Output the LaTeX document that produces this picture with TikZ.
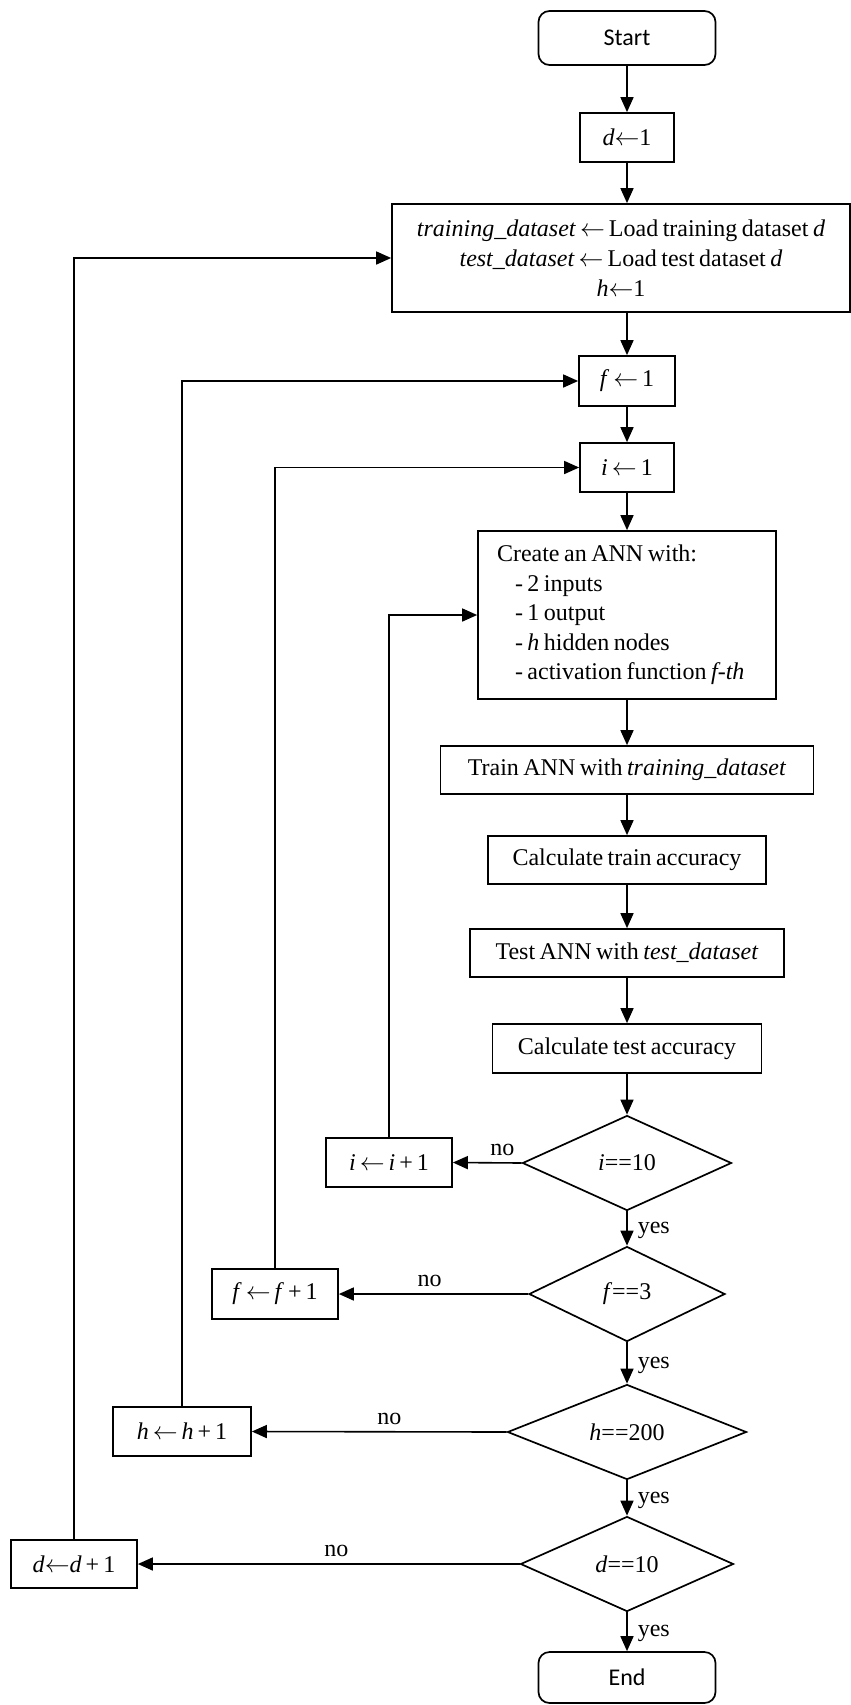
\documentclass[tikz,border=0pt]{standalone}
\usepackage{fontspec}
\setmainfont[WordSpace=0.75]{Liberation Serif}
\newfontfamily\calfont{Carlito}
\usetikzlibrary{shapes.geometric,arrows.meta}
\begin{document}
\begin{tikzpicture}[x=1pt,y=-1pt,
  every node/.style={font=\fontsize{24}{30}\selectfont},
  box/.style={draw, line width=1.7pt, inner sep=0pt, align=center},
  term/.style={draw, rounded corners=11pt, line width=1.7pt, inner sep=0pt,
    minimum width=177pt, minimum height=54pt, font=\calfont\fontsize{24}{29}\selectfont},
  dec/.style={draw, diamond, line width=1.7pt, inner sep=0pt, aspect=2.2},
  arr/.style={line width=1.6pt, -{Triangle[length=15pt,width=13pt]}},
  lbl/.style={inner sep=2pt, font=\fontsize{24}{28}\selectfont}
]
\fill[white] (0,0) rectangle (851,1705);
\useasboundingbox (0,0) rectangle (851,1705);

\node[term] (start) at (627,38) {Start};
\node[box, minimum width=94pt, minimum height=49pt] (d1) at (627,137.5) {\textit{d}$\leftarrow$1};
\node[box, minimum width=458pt, minimum height=108pt] (load) at (621,258)
  {\textit{training\_dataset}\,$\leftarrow$\,Load training dataset \textit{d}\\
   \textit{test\_dataset}\,$\leftarrow$\,Load test dataset \textit{d}\\
   \textit{h}$\leftarrow$1};
\node[box, minimum width=96pt, minimum height=50pt] (f1) at (627,381) {\textit{f}\,$\leftarrow$\,1};
\node[box, minimum width=94pt, minimum height=49pt] (i1) at (627,467.5) {\textit{i}\,$\leftarrow$\,1};
\node[draw, line width=1.7pt, inner xsep=19pt, inner ysep=0pt, text width=260pt,
  align=flush left, minimum height=168pt, font=\fontsize{24}{29.5}\selectfont] (ann) at (627,615)
  {Create an ANN with:\\
   \hspace*{18pt}- 2 inputs\\
   \hspace*{18pt}- 1 output\\
   \hspace*{18pt}- \textit{h} hidden nodes\\
   \hspace*{18pt}- activation function \textit{f-th}};
\node[box, minimum width=373pt, minimum height=48pt] (train) at (627,770) {Train ANN with \textit{training\_dataset}};
\node[box, minimum width=278pt, minimum height=48pt] (ctrain) at (627,860) {Calculate train accuracy};
\node[box, minimum width=314pt, minimum height=48pt] (test) at (627,953) {Test ANN with \textit{test\_dataset}};
\node[box, minimum width=269pt, minimum height=49pt] (ctest) at (627,1048.5) {Calculate test accuracy};

\node[dec, minimum width=209pt, minimum height=95pt] (di) at (627,1163) {\textit{i}==10};
\node[dec, minimum width=196pt, minimum height=95pt] (df) at (627,1294) {\textit{f}==3};
\node[dec, minimum width=239pt, minimum height=95pt] (dh) at (627,1432) {\textit{h}==200};
\node[dec, minimum width=213pt, minimum height=95pt] (dd) at (627,1564) {\textit{d}==10};
\node[term, minimum height=51pt] (end) at (627,1677.5) {End};

\node[box, minimum width=126pt, minimum height=49pt] (ii) at (389,1162.5) {\textit{i}\,$\leftarrow$\,\textit{i}\,+\,1};
\node[box, minimum width=126pt, minimum height=50pt] (ff) at (275,1294) {\textit{f}\,$\leftarrow$\,\textit{f}\,+\,1};
\node[box, minimum width=138pt, minimum height=49pt] (hh) at (182,1431.5) {\textit{h}\,$\leftarrow$\,\textit{h}\,+\,1};
\node[box, minimum width=126pt, minimum height=48pt] (dd1) at (74,1564) {\textit{d}$\leftarrow$\textit{d}\,+\,1};

\draw[arr] (start) -- (d1);
\draw[arr] (d1) -- (d1 |- load.north);
\draw[arr] (load.south -| f1) -- (f1);
\draw[arr] (f1) -- (i1);
\draw[arr] (i1) -- (ann);
\draw[arr] (ann) -- (train);
\draw[arr] (train) -- (ctrain);
\draw[arr] (ctrain) -- (test);
\draw[arr] (test) -- (ctest);
\draw[arr] (ctest) -- (di);
\draw[arr] (di) -- node[lbl, midway, right=8pt, yshift=-2pt] {yes} (df);
\draw[arr] (df) -- node[lbl, midway, right=8pt, yshift=-2pt] {yes} (dh);
\draw[arr] (dh) -- node[lbl, midway, right=8pt, yshift=-2pt] {yes} (dd);
\draw[arr] (dd) -- node[lbl, midway, right=8pt, yshift=-2pt] {yes} (end);

\draw[arr] (di.west) -- node[lbl, pos=0.28, above=4pt] {no} (ii.east);
\draw[arr] (df.west) -- node[lbl, pos=0.52, above=4pt] {no} (ff.east);
\draw[arr] (dh.west) -- node[lbl, pos=0.46, above=4pt] {no} (hh.east);
\draw[arr] (dd.west) -- node[lbl, pos=0.48, above=4pt] {no} (dd1.east);

\draw[arr] (ii.north) |- (ann.west);
\draw[arr] (ff.north) |- (i1.west);
\draw[arr] (hh.north) |- (f1.west);
\draw[arr] (dd1.north) |- (load.west);
\end{tikzpicture}
\end{document}
